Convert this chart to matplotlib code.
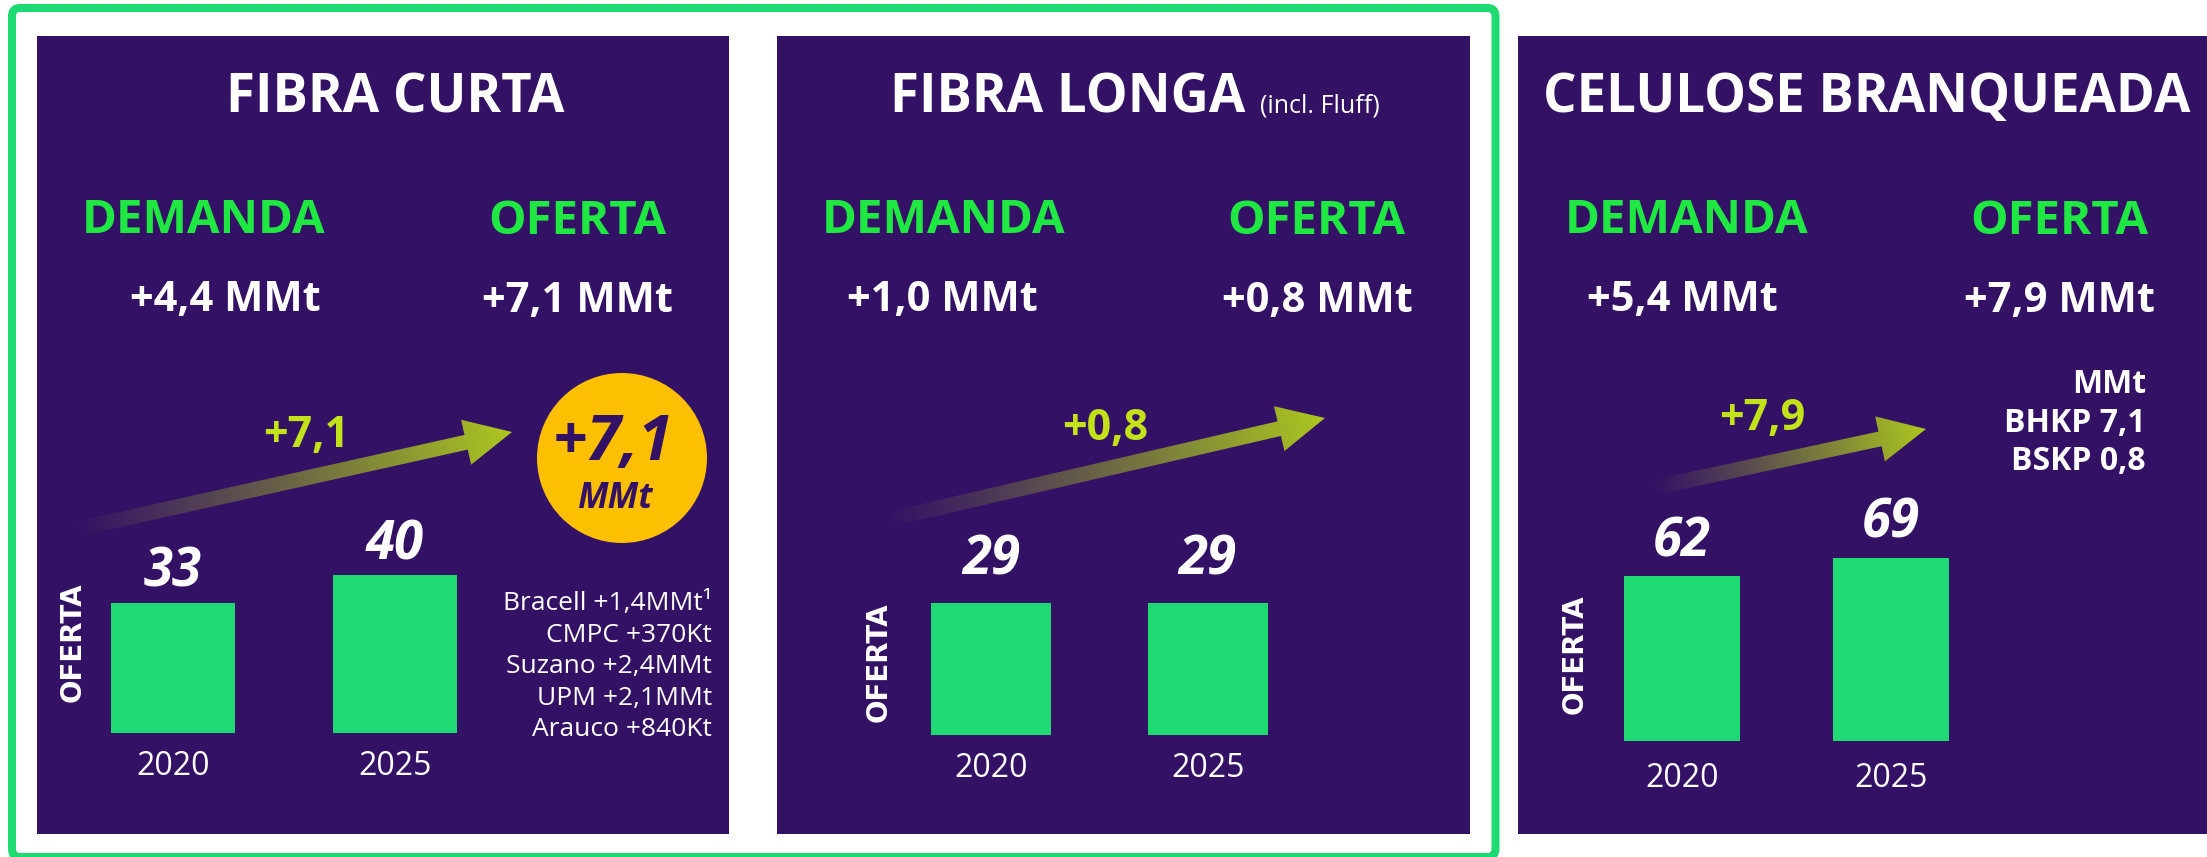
import matplotlib
matplotlib.use('Agg')
import matplotlib.pyplot as plt
import numpy as np
from matplotlib.patches import Rectangle, Circle, Polygon, FancyBboxPatch

plt.rcParams['font.family'] = ['Open Sans', 'DejaVu Sans']

W, H, DPI = 2207, 857, 100
PX = 72 / DPI  # pixels -> points

# ---- data ----
panel_titles = ['FIBRA CURTA', 'FIBRA LONGA', 'CELULOSE BRANQUEADA']
title_notes = ['', '(incl. Fluff)', '']
demand_growth = ['+4,4 MMt', '+1,0 MMt', '+5,4 MMt']
supply_growth = ['+7,1 MMt', '+0,8 MMt', '+7,9 MMt']
arrow_labels = ['+7,1', '+0,8', '+7,9']
years = ['2020', '2025']
oferta_curta = [33, 40]
oferta_longa = [29, 29]
oferta_branqueada = [62, 69]
projects_curta = ['Bracell +1,4MMt¹', 'CMPC +370Kt', 'Suzano +2,4MMt',
                  'UPM +2,1MMt', 'Arauco +840Kt']
mix_branqueada = ['MMt', 'BHKP 7,1', 'BSKP 0,8']
badge_lines = ['+7,1', 'MMt']

# ---- colours ----
PURPLE = '#331265'
GREEN_TXT = '#20e842'
BAR_GREEN = '#1fd973'
OUTLINE = '#1fda70'
LIME = '#c3e21a'
ARROW = '#adc91f'
GOLD = '#fdc000'

fig = plt.figure(figsize=(W / DPI, H / DPI), dpi=DPI)
bg = fig.add_axes([0, 0, 1, 1])
bg.set_xlim(0, W)
bg.set_ylim(H, 0)
bg.axis('off')

# outline round the first two panels
bg.add_patch(FancyBboxPatch((12, 8), 1483.5, 849,
                            boxstyle='round,pad=0,rounding_size=8',
                            lw=8 * PX, ec=OUTLINE, fc='none'))

panel_x = [(37, 729), (777, 1470), (1518, 2207)]
for x0, x1 in panel_x:
    bg.add_patch(Rectangle((x0, 36), x1 - x0, 834 - 36, fc=PURPLE, ec='none'))

# titles
title_x = [395, 1135, 1867]
renderer = fig.canvas.get_renderer()
for i, t in enumerate(panel_titles):
    if title_notes[i]:
        main = bg.text(0, 112, t, fontsize=38, fontweight='bold', color='white',
                       ha='left', va='baseline')
        note = bg.text(0, 112, title_notes[i], fontsize=18, color='white',
                       ha='left', va='baseline')
        w1 = main.get_window_extent(renderer).width
        w2 = note.get_window_extent(renderer).width
        gap = 14
        start = title_x[i] - (w1 + gap + w2) / 2
        main.set_x(start)
        note.set_x(start + w1 + gap)
    else:
        bg.text(title_x[i], 112, t, fontsize=38, fontweight='bold', color='white',
                ha='center', va='baseline')

demand_x = [204, 944, 1687]
offer_x = [577, 1316, 2059]
demand_val_x = [225, 942, 1682]
offer_val_x = [577, 1317, 2059]
for i in range(3):
    bg.text(demand_x[i], 233, 'DEMANDA', fontsize=34, fontweight='bold',
            color=GREEN_TXT, ha='center', va='baseline')
    bg.text(offer_x[i], 234, 'OFERTA', fontsize=34, fontweight='bold',
            color=GREEN_TXT, ha='center', va='baseline')
    bg.text(demand_val_x[i], 311, demand_growth[i], fontsize=30, fontweight='bold',
            color='white', ha='center', va='baseline')
    bg.text(offer_val_x[i], 312, supply_growth[i], fontsize=30, fontweight='bold',
            color='white', ha='center', va='baseline')


def gradient_arrow(ax, tail, tip, shaft_w=15, head_w=46, head_len=47):
    tail = np.array(tail, float)
    tip = np.array(tip, float)
    d = tip - tail
    L = np.hypot(*d)
    u = d / L
    n = np.array([-u[1], u[0]])
    b = tip - head_len * u
    pts = [tail + n * shaft_w / 2, b + n * shaft_w / 2, b + n * head_w / 2, tip,
           b - n * head_w / 2, b - n * shaft_w / 2, tail - n * shaft_w / 2]
    poly = Polygon(pts, closed=True, fc='none', ec='none')
    ax.add_patch(poly)
    pts = np.array(pts)
    xmin, ymin = pts.min(axis=0) - 2
    xmax, ymax = pts.max(axis=0) + 2
    xs = np.linspace(xmin, xmax, 400)
    ys = np.linspace(ymin, ymax, 200)
    X, Y = np.meshgrid(xs, ys)
    t = ((X - tail[0]) * u[0] + (Y - tail[1]) * u[1]) / L
    t = np.clip(t, 0, 1)
    rgba = np.zeros(X.shape + (4,))
    rgba[..., :3] = matplotlib.colors.to_rgb(ARROW)
    rgba[..., 3] = t ** 1.1
    im = ax.imshow(rgba, extent=(xmin, xmax, ymax, ymin), origin='upper',
                   aspect='auto', interpolation='bilinear', zorder=2)
    im.set_clip_path(poly)


arrows = [((73, 530), (512, 432)), ((886, 520), (1325, 418)), ((1652, 488), (1926, 429))]
arrow_label_pos = [(306, 447), (1105, 440), (1762, 430)]
for i in range(3):
    gradient_arrow(bg, *arrows[i])
    bg.text(*arrow_label_pos[i], arrow_labels[i], fontsize=31, fontweight='bold',
            color=LIME, ha='center', va='baseline')

# gold badge
bg.add_patch(Circle((622, 458), 85, fc=GOLD, ec='none', zorder=3))
bg.text(613, 460, badge_lines[0], fontsize=45, fontweight='bold', fontstyle='italic',
        color=PURPLE, ha='center', va='baseline', zorder=4)
bg.text(615, 508, badge_lines[1], fontsize=25, fontweight='bold', fontstyle='italic',
        color=PURPLE, ha='center', va='baseline', zorder=4)

# project list (fibra curta)
for k, line in enumerate(projects_curta):
    bg.text(712, 610 + k * 31.5, line, fontsize=19, color='white',
            ha='right', va='baseline')

# mix (celulose branqueada)
for k, line in enumerate(mix_branqueada):
    bg.text(2146, 393 + k * 38.5, line, fontsize=23, fontweight='bold', color='white',
            ha='right', va='baseline')

# ---- bar panels ----
bar_data = [oferta_curta, oferta_longa, oferta_branqueada]
# left px, bar-base px (from top), width px, y top of axis
bar_axes = [(62, 733, 444, 76), (883, 735, 433, 66), (1577.5, 741, 418, 113)]
label_off = [16, 29, 20]
year_pad = [17, 17, 21]
ylab_pos = [(0.025, 0.303), (-0.009, 0.243), (-0.008, 0.29)]
AX_H = 300
for i in range(3):
    left, base, wpx, ytop = bar_axes[i]
    ax = fig.add_axes([left / W, (H - base) / H, wpx / W, AX_H / H])
    ax.set_facecolor('none')
    vals = bar_data[i]
    ax.bar(range(len(vals)), vals, width=0.555, color=BAR_GREEN)
    ax.set_xlim(-0.5, 1.5)
    ax.set_ylim(0, ytop)
    for j, v in enumerate(vals):
        ax.annotate(str(v), xy=(j, v), xytext=(0, label_off[i] * PX),
                    textcoords='offset points', ha='center', va='baseline',
                    fontsize=38, fontweight='bold', fontstyle='italic', color='white',
                    annotation_clip=False)
    ax.set_xticks(range(len(years)), labels=years)
    ax.tick_params(axis='x', length=0, pad=year_pad[i] * PX, labelsize=23,
                   labelcolor='white')
    ax.set_yticks([])
    for s in ax.spines.values():
        s.set_visible(False)
    ax.set_ylabel('OFERTA', color='white', fontsize=20, fontweight='bold',
                  family='DejaVu Sans', va='center')
    ax.yaxis.set_label_coords(*ylab_pos[i])

fig.savefig('out.png', dpi=DPI, facecolor='white')
